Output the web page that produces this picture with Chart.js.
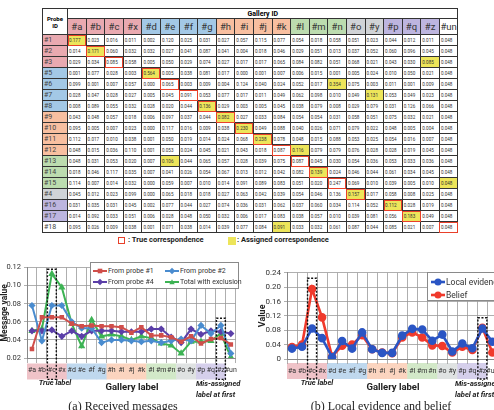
<!DOCTYPE html>
<html>
<head>
<meta charset="utf-8">
<script src="https://cdn.jsdelivr.net/npm/chart.js@4.4.1/dist/chart.umd.min.js"></script>
<style>
  body { margin: 0; width: 494px; height: 410px; overflow: hidden; background: #fff; position: relative; font-family: Roboto, Arial, sans-serif; }
  .abs { position: absolute; white-space: nowrap; }
  #tbl { position: absolute; left: 42px; top: 8px; width: 416px; border-collapse: collapse; table-layout: fixed; border: 1.5px solid #111; }
  #tbl td { border: 0.8px solid #333; padding: 0; overflow: hidden; white-space: nowrap; }
  #tbl td.v { font-size: 4.6px; color: #333; padding-left: 1px; }
  #tbl td.hd { font-size: 9.5px; color: #333; text-align: center; }
  #tbl td.pid { font-size: 7px; color: #444; padding-left: 1px; }
  #tbl td.gid { font-size: 7px; font-weight: bold; text-align: center; }
  #tbl td.probe { font-size: 6px; font-weight: bold; text-align: center; line-height: 7px; }
  .ital { font-style: italic; font-weight: bold; font-size: 7.5px; color: #222; }
  .glab { font-weight: bold; font-size: 9.5px; color: #222; }
  .cap { font-family: "Liberation Serif", "DejaVu Serif", serif; font-size: 12px; color: #222; }
  .leg { position: absolute; background: #fff; border: 1px solid #8a8a8a; box-sizing: border-box; }
  .leg .it { position: absolute; display: flex; align-items: center; white-space: nowrap; color: #333; }
  .wrap { position: absolute; }
</style>
</head>
<body>

<table id="tbl"></table>

<div class="abs" style="left:118px;top:237px;width:5px;height:5px;border:1.6px solid #e8402a;"></div>
<div class="abs" style="left:128px;top:235px;font-size:7.5px;font-weight:bold;color:#222;">: True correspondence</div>
<div class="abs" style="left:228px;top:237px;width:8px;height:8px;background:#ede55a;"></div>
<div class="abs" style="left:237px;top:235px;font-size:7.5px;font-weight:bold;color:#222;">: Assigned correspondence</div>

<div class="wrap" style="left:0;top:260px;width:240px;height:120px;"><canvas id="msgChart"></canvas></div>
<div class="wrap" style="left:249px;top:265px;width:254px;height:116px;"><canvas id="beliefChart"></canvas></div>

<div class="leg" id="legA" style="left:90px;top:262px;width:149px;height:27px;"></div>
<div class="leg" id="legB" style="left:427px;top:272px;width:80px;height:29px;"></div>

<div class="abs ital" style="left:55px;top:378px;transform:translateX(-50%);">True label</div>
<div class="abs glab" style="left:132px;top:381px;transform:translateX(-50%);">Gallery label</div>
<div class="abs ital" style="left:196px;top:378px;line-height:11px;">Mis-assigned<br>label at first</div>
<div class="abs cap" style="left:123px;top:399px;transform:translateX(-50%);">(a) Received messages</div>

<div class="abs ital" style="left:317px;top:378px;transform:translateX(-50%);">True label</div>
<div class="abs glab" style="left:393px;top:381px;transform:translateX(-50%);">Gallery label</div>
<div class="abs ital" style="left:455px;top:378px;line-height:11px;">Mis-assigned<br>label at first</div>
<div class="abs cap" style="left:381px;top:399px;transform:translateX(-50%);">(b) Local evidence and belief</div>

<script>
// gallery / probe labels
const galleryLabels = ['#a', '#b', '#c', '#x', '#d', '#e', '#f', '#g', '#h', '#i', '#j', '#k', '#l', '#m', '#n', '#o', '#y', '#p', '#q', '#z', '#un'];
const galleryGroups = [0, 0, 0, 0, 1, 1, 1, 1, 2, 2, 2, 2, 3, 3, 3, 4, 4, 5, 5, 5, 6];
const probeIds = ['#1', '#2', '#3', '#5', '#6', '#7', '#8', '#9', '#10', '#11', '#12', '#13', '#14', '#15', '#4', '#16', '#17', '#18'];
const probeGroups = [0, 0, 0, 1, 1, 1, 1, 2, 2, 2, 2, 3, 3, 3, 4, 5, 5, 6];

// column index of the true / assigned gallery entry for each probe
const trueMatch = [0, 1, 2, 4, 5, 6, 7, 8, 9, 10, 11, 12, 13, 14, 15, 17, 18, 20];
const assignedMatch = [0, 1, 19, 4, 14, 16, 7, 8, 9, 10, 12, 5, 13, 20, 15, 17, 18, 11];

// table values, one row per probe
const tableValues = [
  [0.177, 0.023, 0.016, 0.011, 0.002, 0.120, 0.025, 0.031, 0.027, 0.057, 0.115, 0.077, 0.054, 0.018, 0.058, 0.051, 0.023, 0.044, 0.012, 0.011, 0.048],
  [0.014, 0.171, 0.060, 0.032, 0.032, 0.027, 0.041, 0.087, 0.041, 0.004, 0.018, 0.046, 0.029, 0.051, 0.013, 0.037, 0.052, 0.060, 0.096, 0.045, 0.048],
  [0.029, 0.034, 0.085, 0.058, 0.005, 0.050, 0.029, 0.074, 0.027, 0.017, 0.017, 0.065, 0.084, 0.082, 0.051, 0.068, 0.021, 0.043, 0.030, 0.085, 0.048],
  [0.001, 0.077, 0.028, 0.003, 0.564, 0.005, 0.038, 0.081, 0.017, 0.000, 0.001, 0.007, 0.006, 0.015, 0.001, 0.005, 0.024, 0.010, 0.050, 0.021, 0.048],
  [0.099, 0.001, 0.007, 0.057, 0.000, 0.065, 0.003, 0.009, 0.004, 0.124, 0.040, 0.024, 0.052, 0.017, 0.354, 0.075, 0.003, 0.011, 0.001, 0.009, 0.048],
  [0.028, 0.047, 0.028, 0.027, 0.005, 0.045, 0.091, 0.053, 0.077, 0.017, 0.011, 0.049, 0.062, 0.098, 0.010, 0.049, 0.131, 0.053, 0.049, 0.023, 0.048],
  [0.008, 0.089, 0.055, 0.032, 0.028, 0.020, 0.044, 0.136, 0.029, 0.003, 0.005, 0.045, 0.038, 0.079, 0.008, 0.029, 0.079, 0.031, 0.126, 0.066, 0.048],
  [0.043, 0.048, 0.057, 0.018, 0.006, 0.097, 0.037, 0.044, 0.082, 0.027, 0.033, 0.084, 0.054, 0.054, 0.031, 0.058, 0.051, 0.075, 0.032, 0.021, 0.048],
  [0.095, 0.005, 0.007, 0.023, 0.000, 0.117, 0.016, 0.009, 0.038, 0.230, 0.049, 0.088, 0.040, 0.026, 0.071, 0.079, 0.022, 0.048, 0.005, 0.004, 0.048],
  [0.112, 0.017, 0.010, 0.038, 0.001, 0.050, 0.019, 0.014, 0.024, 0.068, 0.238, 0.078, 0.048, 0.015, 0.088, 0.053, 0.025, 0.054, 0.016, 0.007, 0.048],
  [0.048, 0.015, 0.036, 0.110, 0.001, 0.053, 0.024, 0.045, 0.021, 0.043, 0.018, 0.087, 0.116, 0.079, 0.079, 0.076, 0.028, 0.028, 0.019, 0.045, 0.048],
  [0.048, 0.031, 0.053, 0.020, 0.007, 0.106, 0.044, 0.065, 0.057, 0.028, 0.039, 0.075, 0.087, 0.045, 0.030, 0.054, 0.036, 0.053, 0.033, 0.036, 0.048],
  [0.018, 0.046, 0.117, 0.035, 0.007, 0.041, 0.026, 0.054, 0.067, 0.013, 0.012, 0.042, 0.082, 0.139, 0.024, 0.046, 0.044, 0.061, 0.034, 0.045, 0.048],
  [0.114, 0.007, 0.014, 0.032, 0.000, 0.059, 0.007, 0.010, 0.014, 0.091, 0.089, 0.083, 0.051, 0.020, 0.247, 0.069, 0.010, 0.039, 0.005, 0.010, 0.048],
  [0.045, 0.012, 0.023, 0.099, 0.000, 0.065, 0.018, 0.018, 0.027, 0.063, 0.042, 0.039, 0.054, 0.046, 0.136, 0.157, 0.017, 0.058, 0.008, 0.025, 0.048],
  [0.031, 0.035, 0.031, 0.045, 0.002, 0.077, 0.044, 0.027, 0.074, 0.036, 0.031, 0.062, 0.037, 0.060, 0.034, 0.114, 0.052, 0.112, 0.028, 0.019, 0.048],
  [0.014, 0.092, 0.033, 0.051, 0.006, 0.028, 0.048, 0.050, 0.032, 0.006, 0.017, 0.083, 0.038, 0.057, 0.010, 0.039, 0.081, 0.056, 0.183, 0.049, 0.048],
  [0.095, 0.026, 0.009, 0.038, 0.001, 0.071, 0.038, 0.014, 0.039, 0.077, 0.084, 0.091, 0.033, 0.032, 0.061, 0.087, 0.044, 0.085, 0.021, 0.007, 0.048]
];

// (a) received messages for probe #3
const fromProbe1 = [0.030, 0.065, 0.065, 0.065, 0.058, 0.055, 0.056, 0.055, 0.055, 0.054, 0.048, 0.054, 0.045, 0.045, 0.043, 0.038, 0.044, 0.036, 0.041, 0.042, 0.035];
const fromProbe2 = [0.078, 0.039, 0.078, 0.078, 0.060, 0.053, 0.053, 0.037, 0.040, 0.040, 0.039, 0.038, 0.039, 0.037, 0.039, 0.041, 0.039, 0.056, 0.047, 0.056, 0.025];
const fromProbe4 = [0.050, 0.050, 0.051, 0.044, 0.050, 0.044, 0.050, 0.050, 0.050, 0.049, 0.049, 0.049, 0.052, 0.052, 0.043, 0.037, 0.052, 0.046, 0.050, 0.049, 0.047];
const totalExclusion = [0.050, 0.052, 0.113, 0.098, 0.058, 0.033, 0.062, 0.044, 0.046, 0.044, 0.040, 0.044, 0.042, 0.036, 0.034, 0.025, 0.038, 0.038, 0.039, 0.047, 0.021];

// (b) local evidence and belief for probe #3
const localEvidence = [0.029, 0.034, 0.085, 0.058, 0.005, 0.050, 0.029, 0.074, 0.027, 0.017, 0.017, 0.065, 0.084, 0.082, 0.051, 0.068, 0.021, 0.043, 0.030, 0.085, 0.048];
const belief = [0.033, 0.040, 0.195, 0.116, 0.007, 0.037, 0.040, 0.066, 0.027, 0.018, 0.016, 0.060, 0.074, 0.060, 0.038, 0.036, 0.018, 0.034, 0.025, 0.087, 0.018];

const headColors = ['#e9a9b0', '#a3c8e6', '#f8bfa0', '#bcdcaf', '#d0d3d6', '#bdb5df', '#ffffff'];
const bandColors = ['#efc3c8', '#bfd8ee', '#fbd4bf', '#d2e8c8', '#dfe2e2', '#d5cfeb', '#ffffff'];

// ---- table ----
function buildTable() {
  const t = document.getElementById('tbl');
  let html = '<colgroup><col style="width:25px">' + galleryLabels.map(() => '<col style="width:18.6px">').join('') + '</colgroup>';
  html += '<tr style="height:10px"><td class="probe" rowspan="2">Probe<br>ID</td><td class="gid" colspan="21">Gallery ID</td></tr>';
  html += '<tr style="height:16px">' + galleryLabels.map((g, i) =>
    `<td class="hd" style="background:${headColors[galleryGroups[i]]}">${g}</td>`).join('') + '</tr>';
  tableValues.forEach((row, r) => {
    html += `<tr style="height:11px"><td class="pid" style="background:${headColors[probeGroups[r]]}">${probeIds[r]}</td>`;
    row.forEach((v, c) => {
      let st = '';
      if (assignedMatch[r] === c) st += 'background:#ede55a;';
      if (trueMatch[r] === c) st += 'outline:1.6px solid #e8402a;outline-offset:-1.5px;';
      html += `<td class="v" style="${st}">${v.toFixed(3)}</td>`;
    });
    html += '</tr>';
  });
  t.innerHTML = html;
}
buildTable();

// ---- chart helpers ----
const bandPlugin = {
  id: 'bands',
  beforeDraw(chart, args, opts) {
    const { ctx } = chart;
    const x = chart.scales.x;
    const pitch = x.getPixelForValue(1) - x.getPixelForValue(0);
    const top = chart.chartArea.bottom + opts.gap;
    ctx.save();
    galleryGroups.forEach((g, i) => {
      ctx.fillStyle = bandColors[g];
      ctx.fillRect(x.getPixelForValue(i) - pitch / 2, top, pitch + 0.6, opts.height);
    });
    ctx.restore();
  },
  afterDatasetsDraw(chart, args, opts) {
    const { ctx } = chart;
    const x = chart.scales.x, y = chart.scales.y;
    const pitch = x.getPixelForValue(1) - x.getPixelForValue(0);
    const bottom = chart.chartArea.bottom + opts.gap + opts.height;
    ctx.save();
    ctx.strokeStyle = '#111';
    ctx.lineWidth = 1.4;
    ctx.setLineDash([2, 1.6]);
    opts.boxes.forEach(b => {
      const cx = x.getPixelForValue(b.index);
      const top = y.getPixelForValue(b.top);
      ctx.strokeRect(cx - pitch / 2 + 0.5, top, pitch - 1, bottom - top);
    });
    ctx.restore();
  }
};

function series(label, data, color, style, radius, width) {
  return {
    label, data,
    borderColor: color, backgroundColor: color,
    pointStyle: style, pointRadius: radius, pointHoverRadius: radius,
    borderWidth: width, tension: 0
  };
}

function buildLegend(el, chart, rows, fontSize) {
  chart.data.datasets.forEach((ds, i) => {
    const [left, top] = rows[i];
    const d = document.createElement('div');
    d.className = 'it';
    d.style.left = left + 'px';
    d.style.top = top + 'px';
    d.style.fontSize = fontSize + 'px';
    const r = ds.pointRadius + 0.5;
    let mark = '';
    if (ds.pointStyle === 'rect') mark = `<rect x="${7 - r}" y="${4 - r}" width="${2 * r}" height="${2 * r}" fill="${ds.borderColor}"/>`;
    else if (ds.pointStyle === 'rectRot') mark = `<polygon points="7,${4 - r - 0.5} ${7 + r + 0.5},4 7,${4 + r + 0.5} ${7 - r - 0.5},4" fill="${ds.borderColor}"/>`;
    else if (ds.pointStyle === 'triangle') mark = `<polygon points="7,${4 - r} ${7 + r},${4 + r * 0.8} ${7 - r},${4 + r * 0.8}" fill="${ds.borderColor}"/>`;
    else mark = `<circle cx="7" cy="4" r="${r}" fill="${ds.borderColor}"/>`;
    d.innerHTML = `<svg width="14" height="8"><line x1="0" y1="4" x2="14" y2="4" stroke="${ds.borderColor}" stroke-width="${ds.borderWidth}"/>${mark}</svg><span style="margin-left:1px">${ds.label}</span>`;
    el.appendChild(d);
  });
}

Chart.defaults.font.family = 'Roboto, Arial, sans-serif';
Chart.defaults.color = '#333';
Chart.defaults.animation = false;

function xScale() {
  return {
    offset: true,
    grid: { offset: true, color: '#9a9a9a', lineWidth: 0.8, tickLength: 5, tickColor: '#9a9a9a' },
    border: { color: '#888' },
    ticks: { autoSkip: false, maxRotation: 0, font: { size: 7 }, padding: 3, color: '#333' },
    afterFit(s) { s.height = 22; }
  };
}

// ---- (a) received messages ----
const msgChart = new Chart(document.getElementById('msgChart'), {
  type: 'line',
  data: {
    labels: galleryLabels,
    datasets: [
      series('From probe #1', fromProbe1, '#d04e4a', 'rect', 1.8, 2),
      series('From probe #2', fromProbe2, '#4a8ccf', 'rectRot', 2.2, 2),
      series('From probe #4', fromProbe4, '#5b3fa8', 'rectRot', 2.2, 2),
      series('Total with exclusion', totalExclusion, '#3db354', 'triangle', 2.2, 2)
    ]
  },
  options: {
    responsive: true, maintainAspectRatio: false,
    layout: { padding: { top: 6, right: 3, left: 0, bottom: 0 } },
    plugins: {
      legend: { display: false }, tooltip: { enabled: false },
      bands: { gap: 5.5, height: 16, boxes: [{ index: 2, top: 0.118 }, { index: 19, top: 0.064 }] }
    },
    scales: {
      x: xScale(),
      y: {
        min: 0.02, max: 0.12,
        ticks: { stepSize: 0.02, font: { size: 7.5 }, padding: 3, color: '#333' },
        grid: { color: '#9a9a9a', lineWidth: 0.8, tickLength: 3 },
        border: { color: '#888' },
        title: { display: true, text: 'Message value', font: { size: 8.5, weight: 'bold' }, color: '#222', padding: 0 },
        afterFit(s) { s.width = 27; }
      }
    }
  },
  plugins: [bandPlugin]
});

// ---- (b) local evidence and belief ----
const beliefChart = new Chart(document.getElementById('beliefChart'), {
  type: 'line',
  data: {
    labels: galleryLabels,
    datasets: [
      series('Local evidence', localEvidence, '#2a55c4', 'circle', 3, 2.6),
      series('Belief', belief, '#f03a2c', 'circle', 3, 2.6)
    ]
  },
  options: {
    responsive: true, maintainAspectRatio: false,
    layout: { padding: { top: 6.4, right: 4, left: 0, bottom: 0 } },
    plugins: {
      legend: { display: false }, tooltip: { enabled: false },
      bands: { gap: 4, height: 16, boxes: [{ index: 2, top: 0.225 }, { index: 19, top: 0.115 }] }
    },
    scales: {
      x: xScale(),
      y: {
        min: 0, max: 0.24,
        ticks: { stepSize: 0.04, font: { size: 8 }, padding: 3, color: '#333' },
        grid: { color: '#9a9a9a', lineWidth: 0.8, tickLength: 3 },
        border: { color: '#888' },
        title: { display: true, text: 'Value', font: { size: 9, weight: 'bold' }, color: '#222', padding: { top: 8, bottom: 0 } },
        afterFit(s) { s.width = 38; }
      }
    }
  },
  plugins: [bandPlugin]
});

buildLegend(document.getElementById('legA'), msgChart, [[2, 4], [74, 4], [2, 15], [74, 15]], 7);
buildLegend(document.getElementById('legB'), beliefChart, [[3, 4], [3, 17]], 8.5);
</script>
</body>
</html>
